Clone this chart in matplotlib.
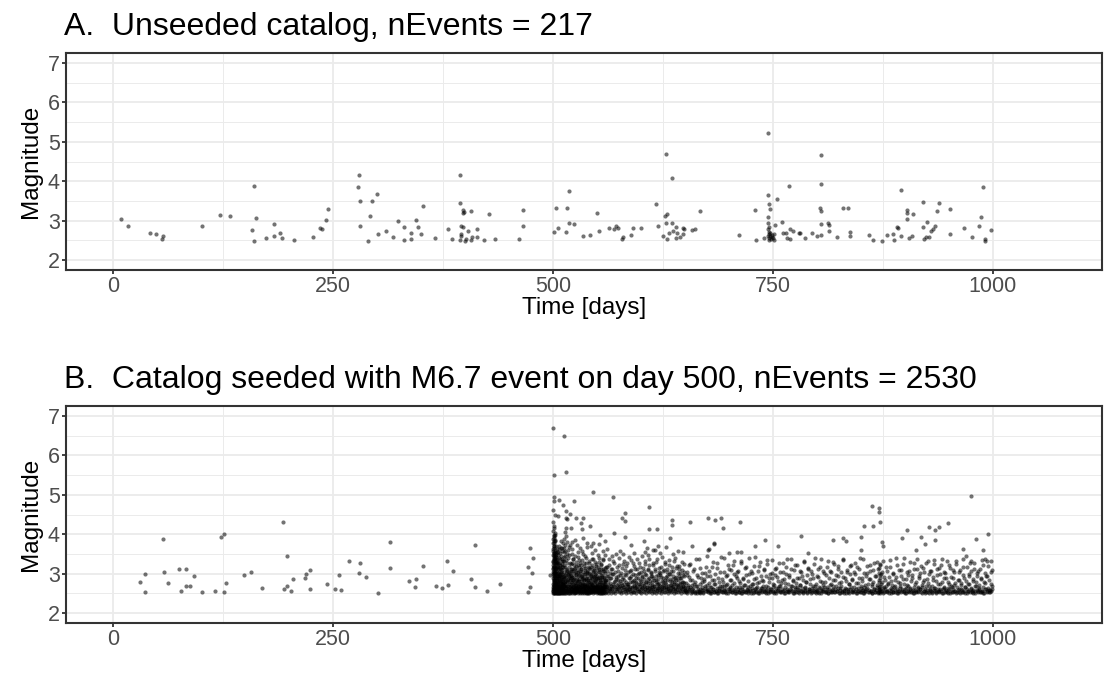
import numpy as np
import matplotlib.pyplot as plt

# Panel A: unseeded catalog (day, magnitude)
cat_a = [
    (8.7, 3.04), (17.3, 2.87), (41.9, 2.68), (49.2, 2.65), (56.4, 2.61), (55.8, 2.53), (101, 2.87), (122, 3.14),
    (133, 3.12), (160, 3.88), (162, 3.07), (158, 2.76), (160, 2.49), (174, 2.57), (182.5, 2.91), (182.5, 2.61),
    (190, 2.68), (192, 2.55), (206, 2.50), (227, 2.58), (235.5, 2.82), (238, 2.80), (242, 3.01), (244.5, 3.30),
    (279.5, 4.17), (278, 3.86), (281, 3.49), (294.7, 3.49), (300, 3.67), (292, 3.13), (280.5, 2.86), (289.5, 2.49),
    (301.6, 2.66), (310.6, 2.74), (318, 2.58), (323.5, 3.00), (330.8, 2.83), (330.8, 2.52), (339, 2.70), (339, 2.53),
    (344, 3.02), (346.8, 2.83), (350, 2.67), (352.4, 3.38), (366, 2.57), (381, 2.79), (385, 2.53), (394.5, 4.15),
    (394.5, 3.45), (397.3, 3.28), (398.3, 3.21), (397.6, 3.19), (407, 3.24), (396, 2.86), (398, 2.85), (403.5, 2.74),
    (396, 2.66), (395, 2.62), (394.5, 2.51), (401.5, 2.54), (400, 2.49), (408.4, 2.58), (406.7, 2.50), (414, 2.80),
    (413.6, 2.58), (421.7, 2.50), (427, 3.17), (433.8, 2.53), (461.7, 2.53), (465.5, 3.27), (465.5, 2.87), (501.4, 2.71),
    (503.8, 3.33), (505.2, 2.81), (515.3, 2.71), (516, 3.31), (518.5, 3.75), (518, 2.94), (523.3, 2.92), (534.5, 2.61),
    (542, 2.64), (550, 3.19), (551.9, 2.73), (563.7, 2.81), (569.3, 2.78), (571.4, 2.87), (573.5, 2.82), (578, 2.54),
    (579.7, 2.58), (588.7, 2.64), (590.4, 2.82), (600, 2.82), (617, 3.42), (619, 2.86), (628, 4.70), (634.8, 4.07),
    (627.5, 3.12), (629, 3.18), (628.5, 2.95), (635.5, 2.95), (639.6, 2.84), (625, 2.62), (629, 2.54), (631.6, 2.69),
    (636, 2.74), (640.7, 2.70), (640, 2.55), (643.8, 2.59), (647.6, 2.81), (648, 2.67), (649, 2.78), (658.4, 2.77),
    (661.6, 2.79), (667.1, 3.24), (711, 2.63), (729.5, 3.28), (730.8, 2.52), (739.6, 2.55), (744, 5.23), (744, 3.64),
    (745.5, 3.42), (746.5, 3.29), (744.4, 3.10), (744, 2.95), (744, 2.78), (745, 2.72), (746, 2.66), (747, 2.60),
    (745, 2.56), (748, 2.53), (746, 2.51), (744, 2.62), (749, 2.58), (747, 2.70), (750, 2.55), (751, 2.52),
    (745.5, 2.84), (748.5, 2.64), (754.5, 3.56), (752.4, 2.90), (760.4, 2.96), (751, 2.66), (768.5, 3.87), (761.5, 2.70),
    (765.3, 2.69), (769.5, 2.79), (772.3, 2.73), (765.7, 2.55), (768.8, 2.53), (779, 2.69), (780.6, 2.70), (786.2, 2.56),
    (793.8, 2.69), (800.5, 2.62), (804, 4.67), (804, 3.93), (803.3, 3.31), (804, 3.24), (804, 2.91), (804.3, 2.64),
    (812.3, 2.93), (813.4, 2.89), (813.4, 2.73), (822.4, 2.58), (829.7, 3.32), (835, 3.31), (837.4, 2.71), (837.8, 2.61),
    (858.6, 2.63), (863.2, 2.51), (873.6, 2.49), (879.9, 2.64), (886.8, 2.66), (887.2, 2.52), (891.4, 2.84), (891.8, 2.81),
    (895.2, 2.62), (895.5, 3.79), (902.5, 3.27), (901.8, 3.19), (902.5, 3.03), (908.8, 3.16), (905, 2.56), (907.7, 2.62),
    (920.6, 3.48), (920.3, 2.85), (924.8, 2.97), (921.3, 2.53), (923.4, 2.59), (927.2, 2.59), (930, 2.75), (931.8, 2.79),
    (933.9, 2.86), (936, 3.25), (939, 3.45), (950.6, 3.29), (951, 2.67), (967.6, 2.82), (975.6, 2.59), (984, 2.86),
    (986.4, 3.10), (989.2, 3.86), (991, 2.53), (991.3, 2.49), (998, 2.77),
]

# Panel B: seeded catalog, background events before day 500
cat_b_before = [
    (30.9, 2.78), (35.8, 2.99), (35.8, 2.54), (56.6, 3.89), (57.6, 3.03), (62.2, 2.76), (75.3, 3.11), (83, 3.12),
    (91.7, 2.95), (83.3, 2.70), (87.8, 2.70), (77.4, 2.56), (100.7, 2.54), (116, 2.55), (123, 3.93), (126.4, 4.01),
    (128.5, 2.76), (126.4, 2.54), (148.6, 2.97), (156.6, 3.04), (169, 2.63), (193, 4.30), (197.6, 3.45), (194, 2.61),
    (197.2, 2.68), (202, 2.56), (205, 2.87), (218, 2.88), (219.4, 2.98), (223.6, 3.09), (224.3, 2.61), (243.7, 2.75),
    (252, 2.62), (257.3, 2.96), (258.7, 2.59), (268.4, 3.33), (281.2, 3.28), (279.9, 3.01), (287, 2.91), (300.7, 2.51),
    (315, 3.80), (315.3, 3.15), (336, 2.82), (344.4, 2.86), (343.4, 2.66), (352, 3.20), (366.7, 2.69), (374, 2.63),
    (379, 3.31), (380.5, 2.71), (386, 3.06), (407, 2.87), (411.8, 3.72), (411.8, 2.66), (425, 2.57), (439.6, 2.74),
    (471.4, 2.53), (474.2, 2.66), (474.2, 3.64), (477, 3.41), (471.4, 3.16), (475.6, 3.02), (496.5, 2.97),
]

# larger events after the seed
cat_b_upper = [
    (500, 6.69), (512.2, 6.48), (501.7, 5.50), (514.3, 5.58), (545.7, 5.08), (568, 4.94), (500.7, 4.95), (500.7, 4.84),
    (507.3, 4.87), (510.8, 4.73), (524.4, 4.84), (514.3, 4.60), (519.6, 4.52), (526.2, 4.40), (534.3, 4.40), (531.5, 4.28),
    (533, 4.13), (542.2, 4.20), (514.3, 4.41), (516, 4.39), (505.6, 4.46), (500, 4.62), (502, 4.49), (521, 4.16),
    (553, 3.97), (569, 4.02), (581.4, 4.55), (578.2, 4.40), (582, 4.34), (582, 3.94), (609.3, 4.70), (609.3, 4.13),
    (618.7, 4.14), (603.7, 3.84), (619, 3.71), (606.5, 3.66), (613.4, 3.60), (635, 4.36), (635, 4.24), (633, 3.91),
    (655.7, 4.31), (676.3, 4.42), (684.4, 4.36), (691.3, 4.42), (693, 4.17), (648, 3.54), (658, 3.71), (682.8, 3.76),
    (677, 3.62), (712.8, 4.30), (741.3, 3.86), (755.6, 3.69), (782.3, 3.96), (789.6, 3.52), (817.8, 3.85), (829.6, 3.91),
    (833.1, 3.83), (862, 4.71), (871, 4.66), (871, 4.57), (871.7, 4.31), (853.6, 4.21), (863.7, 4.21), (849.8, 3.94),
    (850, 3.60), (873.4, 3.81), (874.5, 3.71), (902, 4.10), (896.8, 3.90), (927.7, 4.19), (933.6, 4.10), (939.1, 4.19),
    (948.5, 4.28), (918.3, 3.92), (923.2, 3.75), (934, 3.85), (912, 3.59), (975.3, 4.98), (981, 3.88), (994.4, 4.00),
    (988.9, 3.61), (991.3, 3.36), (997.2, 3.32), (966, 3.63), (975.3, 3.31), (729.5, 3.69), (699.6, 3.53), (709.3, 3.56),
    (713.5, 3.56), (682.6, 3.77), (676.3, 3.61),
]

# first aftershock streak, days 500-505
cat_b_core = [
    (500.1, 2.52), (500.3, 2.61), (500.2, 2.74), (500.5, 2.55), (500.4, 2.88), (500.6, 3.02), (500.2, 3.15), (500.8, 2.67),
    (500.7, 2.93), (500.3, 3.31), (500.9, 2.58), (501.0, 2.81), (500.6, 3.44), (501.2, 2.53), (501.1, 3.08), (500.4, 3.62),
    (501.3, 2.72), (501.5, 2.96), (500.9, 3.27), (501.4, 2.60), (501.6, 3.19), (500.2, 3.78), (501.8, 2.54), (501.7, 2.85),
    (500.7, 3.91), (502.0, 2.66), (501.9, 3.05), (501.2, 3.53), (502.1, 2.78), (502.3, 2.57), (500.5, 4.08), (502.2, 3.38),
    (502.5, 2.69), (502.4, 2.91), (501.0, 4.22), (502.7, 2.51), (502.6, 3.12), (502.9, 2.63), (502.8, 2.84), (501.6, 3.71),
    (503.0, 2.99), (503.2, 2.56), (503.1, 3.24), (503.4, 2.75), (503.3, 2.62), (502.0, 3.86), (503.6, 2.89), (503.5, 3.47),
    (503.8, 2.53), (503.7, 2.70), (504.0, 3.01), (504.2, 2.59), (504.1, 2.81), (504.4, 3.29), (504.3, 2.64), (504.6, 2.52),
    (504.5, 2.95), (504.8, 2.73), (504.7, 3.16), (505.0, 2.58), (500.3, 2.98), (500.8, 3.36), (501.4, 3.84), (500.1, 3.22),
    (500.6, 2.70), (501.1, 2.64), (501.8, 3.32), (502.4, 3.61), (503.0, 3.42), (502.2, 2.59), (500.4, 2.57), (500.9, 2.77),
    (501.5, 2.52), (502.0, 2.95), (502.6, 2.74), (503.3, 2.52), (503.9, 3.08), (504.5, 2.67), (505.1, 2.86), (505.3, 3.13),
    (500.2, 2.66), (500.7, 2.51), (501.3, 2.90), (501.9, 2.61), (502.5, 3.02), (503.1, 2.55), (503.7, 2.97), (504.2, 3.55),
    (504.9, 2.55), (505.4, 2.62), (500.5, 3.12), (501.0, 3.48), (501.6, 2.79), (502.3, 3.14), (502.9, 3.27), (503.5, 2.58),
    (504.1, 2.52), (504.7, 2.61), (505.2, 2.79), (505.5, 2.51), (500.2, 3.48), (500.6, 3.71), (500.9, 3.95), (501.3, 3.66),
    (500.4, 3.29), (501.7, 3.52), (500.8, 4.15), (502.1, 3.44), (501.5, 3.97), (500.3, 4.31), (502.6, 3.55), (501.0, 3.79),
    (500.5, 3.58), (503.2, 3.69), (501.9, 4.04), (500.1, 3.88), (502.8, 3.82), (501.2, 3.17), (503.6, 3.35), (500.7, 3.40),
    (504.0, 3.62), (502.4, 3.98), (500.9, 2.62), (501.4, 2.71), (502.7, 3.09), (503.9, 2.77), (504.4, 2.84), (505.0, 3.27),
    (500.6, 2.85), (502.1, 2.53), (500.3, 3.05), (500.8, 3.18), (501.2, 3.34), (501.7, 3.01), (502.2, 3.26), (502.7, 3.40),
    (503.3, 3.15), (503.8, 3.52), (504.3, 3.20), (504.8, 3.38),
]

# second streak after the M6.5 on day ~512
cat_b_streak2 = [
    (511.8, 2.53), (512.1, 2.68), (512.4, 2.87), (512.0, 3.05), (512.6, 2.59), (512.9, 3.21), (513.1, 2.74), (512.3, 3.42),
    (513.4, 2.55), (513.7, 2.96), (513.2, 3.58), (514.0, 2.63), (514.3, 3.12), (513.8, 2.81), (514.6, 2.52), (514.1, 3.73),
    (514.9, 2.70), (515.2, 2.92), (514.7, 3.34), (515.5, 2.57), (515.8, 3.07), (515.3, 2.64), (516.1, 2.78), (516.4, 2.53),
    (515.9, 3.49), (516.7, 2.86), (517.0, 2.61), (516.3, 3.26), (517.3, 2.99), (517.6, 2.55), (512.7, 3.89), (513.5, 4.05),
    (514.4, 4.17), (513.0, 3.66), (515.0, 3.95), (516.0, 3.81), (512.2, 2.76), (513.9, 2.51), (515.6, 2.69), (517.9, 2.73),
    (518.2, 2.58), (518.5, 3.03), (518.8, 2.66), (519.1, 2.52), (519.4, 2.84), (511.6, 2.95), (512.5, 2.52), (513.3, 2.88),
    (514.5, 2.66), (515.7, 2.81), (516.6, 2.62), (517.4, 2.52), (517.1, 3.40), (518.0, 3.18), (512.8, 3.31), (514.8, 3.02),
    (513.6, 3.17), (516.9, 2.96), (511.9, 2.62), (515.1, 2.55), (512.5, 3.54), (513.8, 3.45), (512.0, 2.70), (512.9, 2.93),
    (513.6, 2.57), (514.2, 2.79), (515.4, 3.10), (516.5, 2.68), (516.8, 3.59), (517.7, 3.67), (518.6, 3.48), (519.2, 3.72),
]

# dense aftershocks, days 505-560
cat_b_early = [
    (505.6, 2.54), (505.9, 2.77), (506.2, 2.61), (506.4, 3.05), (506.7, 2.52), (506.9, 2.88), (507.2, 2.66), (507.5, 3.21),
    (507.7, 2.57), (508.0, 2.95), (508.3, 2.70), (508.5, 2.53), (508.8, 3.12), (509.1, 2.82), (509.3, 2.59), (509.6, 2.51),
    (509.9, 3.37), (510.2, 2.73), (510.4, 2.64), (510.7, 2.98), (511.0, 2.55), (511.3, 3.16), (506.0, 3.48), (507.0, 2.52),
    (508.1, 2.60), (509.0, 3.64), (510.1, 2.52), (506.5, 2.70), (507.9, 2.79), (509.4, 3.01), (520.0, 2.53), (520.3, 2.79),
    (520.7, 3.06), (521.0, 2.62), (521.4, 2.51), (521.7, 2.91), (522.1, 3.28), (522.4, 2.67), (522.8, 2.55), (523.1, 2.84),
    (523.5, 3.12), (523.8, 2.58), (524.2, 2.72), (524.5, 2.52), (524.9, 3.45), (525.2, 2.64), (525.6, 2.97), (525.9, 2.53),
    (526.3, 2.76), (526.6, 3.19), (527.0, 2.56), (527.3, 2.86), (527.7, 2.61), (528.0, 3.03), (528.4, 2.52), (528.7, 2.69),
    (529.1, 3.34), (529.4, 2.58), (529.8, 2.81), (530.1, 2.54), (530.5, 3.08), (530.8, 2.66), (531.2, 2.52), (531.5, 2.93),
    (531.9, 2.60), (532.2, 3.22), (532.6, 2.71), (532.9, 2.55), (533.3, 2.87), (533.6, 3.51), (534.0, 2.57), (534.3, 2.74),
    (534.7, 2.52), (535.0, 3.00), (535.4, 2.63), (535.7, 2.83), (536.1, 2.53), (536.4, 3.14), (536.8, 2.68), (537.1, 2.56),
    (537.5, 2.90), (537.8, 3.41), (538.2, 2.59), (538.5, 2.77), (538.9, 2.52), (539.2, 3.05), (539.6, 2.65), (539.9, 2.54),
    (540.3, 2.85), (540.6, 3.26), (541.0, 2.61), (541.3, 2.52), (541.7, 2.73), (542.0, 2.98), (542.4, 2.55), (542.7, 3.17),
    (543.1, 2.67), (543.4, 2.53), (543.8, 2.89), (544.1, 2.60), (544.5, 3.38), (544.8, 2.71), (545.2, 2.52), (545.5, 2.94),
    (545.9, 2.58), (546.2, 3.09), (546.6, 2.64), (546.9, 2.80), (547.3, 2.53), (547.6, 3.29), (548.0, 2.62), (548.3, 2.56),
    (548.7, 2.86), (549.0, 2.69), (549.4, 3.02), (549.7, 2.52), (550.1, 2.75), (550.4, 2.59), (550.8, 3.47), (551.1, 2.66),
    (551.5, 2.53), (551.8, 2.91), (552.2, 2.57), (552.5, 3.13), (552.9, 2.70), (553.2, 2.52), (553.6, 2.84), (553.9, 2.61),
    (554.3, 3.24), (554.6, 2.55), (555.0, 2.78), (555.3, 2.64), (555.7, 2.97), (556.0, 2.52), (556.4, 2.72), (556.7, 3.36),
    (557.1, 2.58), (557.4, 2.88), (557.8, 2.54), (558.1, 3.06), (558.5, 2.67), (558.8, 2.52), (559.2, 2.81), (559.5, 2.60),
    (559.9, 3.18), (521.2, 3.62), (527.5, 3.72), (533.0, 3.58), (539.0, 3.67), (545.0, 3.79), (522.6, 2.59), (524.0, 2.55),
    (526.0, 2.63), (528.9, 2.57), (531.0, 2.75), (534.5, 2.61), (536.6, 2.58), (538.7, 2.69), (541.5, 2.57), (543.6, 2.76),
    (546.0, 2.55), (548.5, 2.65), (551.3, 2.59), (554.0, 2.52), (556.9, 2.61), (520.5, 2.88), (523.3, 3.02), (525.4, 2.54),
    (529.6, 2.96), (532.4, 2.52), (535.2, 2.68), (537.3, 2.53), (540.0, 2.62), (542.9, 2.54), (545.7, 2.66), (547.9, 2.93),
    (550.6, 2.54), (553.4, 2.67), (555.5, 2.53), (558.3, 2.74), (506.8, 3.27), (508.6, 2.87), (510.5, 2.58), (519.7, 2.67),
    (519.9, 3.11), (505.8, 2.93), (507.4, 2.54), (509.7, 2.69), (510.9, 2.80), (518.4, 2.93), (505.7, 3.18), (506.3, 2.58),
    (507.1, 2.93), (507.8, 2.51), (508.4, 3.36), (509.2, 2.62), (509.8, 2.91), (510.6, 3.24), (511.2, 2.67), (511.5, 2.52),
    (516.2, 2.59), (517.2, 2.83), (518.1, 2.51), (518.9, 3.28), (519.3, 2.56), (519.6, 2.90), (506.1, 2.66), (507.6, 2.99),
    (508.9, 2.55), (510.3, 3.09), (505.4, 2.71), (505.9, 3.02), (506.6, 2.59), (507.3, 2.83), (507.9, 3.14), (508.7, 2.62),
    (509.5, 2.77), (510.0, 2.54), (510.8, 3.31), (511.4, 2.73), (520.2, 2.64), (520.9, 2.97), (521.5, 2.56), (522.3, 2.75),
    (522.9, 3.38), (523.6, 2.61), (524.4, 2.87), (525.0, 2.53), (525.7, 3.04), (526.4, 2.69), (527.2, 2.58), (527.9, 2.81),
    (528.6, 3.21), (529.3, 2.55), (530.0, 2.72), (530.7, 2.63), (531.4, 3.11), (532.1, 2.57), (532.8, 2.92), (533.5, 2.66),
    (534.2, 2.53), (534.9, 3.27), (535.6, 2.74), (536.3, 2.59), (537.0, 2.85), (537.7, 2.52), (538.4, 3.01), (539.1, 2.68),
    (539.8, 2.56), (540.5, 2.79), (541.2, 3.15), (541.9, 2.62), (542.6, 2.54), (543.3, 2.94), (544.0, 2.71), (544.7, 2.57),
    (545.4, 3.07), (546.1, 2.65), (546.8, 2.53), (547.5, 2.83), (548.2, 2.59), (548.9, 3.19), (549.6, 2.67), (550.3, 2.55),
    (551.0, 2.88), (551.7, 2.62), (552.4, 2.52), (553.1, 3.03), (553.8, 2.73), (554.5, 2.58), (555.2, 2.91), (555.9, 2.56),
    (556.6, 3.12), (557.3, 2.64), (558.0, 2.53), (558.7, 2.80), (559.4, 2.68), (520.6, 2.55), (523.9, 2.52), (527.6, 2.64),
    (531.8, 2.53), (535.9, 2.62), (539.4, 2.52), (543.0, 2.60), (546.4, 2.55), (550.0, 2.63), (553.5, 2.56), (557.0, 2.52),
    (506.9, 2.62), (508.2, 2.53), (509.9, 2.75), (511.1, 2.58), (505.3, 2.55), (510.4, 2.85), (522.0, 3.49), (528.2, 3.56),
    (536.9, 3.44), (544.2, 3.53), (551.9, 3.41), (558.6, 3.47),
]

# more of the same window, read from the upper part of the cloud
cat_b_early2 = [
    (505.5, 2.88), (505.8, 3.29), (506.1, 2.73), (506.5, 3.11), (506.8, 2.64), (507.0, 3.40), (507.3, 2.97), (507.6, 2.69),
    (508.0, 3.23), (508.3, 2.81), (508.6, 3.05), (508.9, 2.67), (509.2, 3.46), (509.5, 2.92), (509.8, 2.75), (510.1, 3.18),
    (510.4, 2.62), (510.7, 3.33), (511.0, 2.86), (511.3, 2.71), (519.5, 3.02), (519.8, 2.74), (520.1, 3.25), (520.4, 2.68),
    (520.8, 2.93), (521.1, 3.12), (521.5, 2.79), (521.8, 2.63), (522.2, 3.37), (522.5, 2.85), (522.9, 2.70), (523.2, 3.06),
    (523.6, 2.66), (523.9, 3.21), (524.3, 2.91), (524.6, 2.76), (525.0, 3.15), (525.3, 2.61), (525.7, 2.83), (526.0, 3.30),
    (526.4, 2.72), (526.7, 2.98), (527.1, 2.65), (527.4, 3.09), (527.8, 2.80), (528.1, 3.42), (528.5, 2.69), (528.8, 2.94),
    (529.2, 2.62), (529.5, 3.17), (529.9, 2.87), (530.2, 2.73), (530.6, 3.01), (530.9, 3.26), (531.3, 2.67), (531.6, 2.82),
    (532.0, 3.13), (532.3, 2.63), (532.7, 2.95), (533.0, 2.77), (533.4, 3.35), (533.7, 2.70), (534.1, 2.89), (534.4, 3.04),
    (534.8, 2.64), (535.1, 3.20), (535.5, 2.84), (535.8, 2.68), (536.2, 2.99), (536.5, 3.10), (536.9, 2.74), (537.2, 2.61),
    (537.6, 3.28), (537.9, 2.86), (538.3, 2.71), (538.6, 3.07), (539.0, 2.93), (539.3, 2.66), (539.7, 3.16), (540.0, 2.79),
    (540.4, 2.63), (540.7, 3.02), (541.1, 2.90), (541.4, 3.31), (541.8, 2.69), (542.1, 2.83), (542.5, 3.12), (542.8, 2.65),
    (543.2, 2.96), (543.5, 2.75), (543.9, 3.22), (544.2, 2.87), (544.6, 2.62), (544.9, 3.05), (545.3, 2.78), (545.6, 3.36),
    (546.0, 2.70), (546.3, 2.92), (546.7, 2.66), (547.0, 3.14), (547.4, 2.82), (547.7, 2.72), (548.1, 3.00), (548.4, 3.24),
    (548.8, 2.64), (549.1, 2.88), (549.5, 2.77), (549.8, 3.09), (550.2, 2.68), (550.5, 2.95), (550.9, 3.18), (551.2, 2.61),
    (551.6, 2.84), (551.9, 3.03), (552.3, 2.74), (552.6, 3.29), (553.0, 2.67), (553.3, 2.90), (553.7, 2.80), (554.0, 3.11),
    (554.4, 2.63), (554.7, 2.97), (555.1, 3.21), (555.4, 2.71), (555.8, 2.86), (556.1, 2.65), (556.5, 3.06), (556.8, 2.79),
    (557.2, 3.34), (557.5, 2.69), (557.9, 2.92), (558.2, 2.62), (558.6, 3.15), (558.9, 2.83), (559.3, 2.73), (559.6, 3.01),
    (559.9, 2.66), (505.6, 3.55), (506.4, 3.62), (507.2, 3.71), (508.1, 3.52), (509.0, 3.83), (509.7, 3.58), (510.5, 3.66),
    (511.2, 3.77), (521.9, 3.80), (525.5, 3.86), (530.4, 3.64), (534.6, 3.90), (538.8, 3.77), (543.7, 3.69), (547.2, 3.61),
    (552.0, 3.74), (556.3, 3.58), (559.1, 3.82),
]

# aftershocks, days 560-650
cat_b_mid = [
    (560.2, 2.61), (560.5, 2.53), (560.9, 2.94), (561.3, 2.70), (561.4, 3.18), (561.9, 2.56), (562.6, 2.83), (562.8, 2.51),
    (563.1, 3.37), (563.7, 2.64), (564.0, 2.58), (564.5, 2.77), (564.6, 3.02), (565.2, 2.55), (565.9, 2.69), (566.0, 2.89),
    (566.4, 2.52), (567.1, 3.11), (567.3, 2.62), (567.9, 2.74), (568.4, 2.54), (568.5, 2.98), (569.0, 3.26), (569.6, 2.57),
    (570.2, 2.81), (570.3, 2.66), (570.9, 2.52), (571.5, 2.92), (571.6, 3.51), (572.3, 2.60), (572.8, 2.71), (573.0, 2.55),
    (573.5, 3.07), (574.1, 2.85), (574.2, 2.63), (574.9, 2.53), (575.3, 3.22), (575.8, 2.68), (576.2, 2.57), (576.7, 2.96),
    (577.2, 2.76), (577.5, 2.51), (578.1, 3.14), (578.6, 2.59), (578.8, 2.87), (579.4, 2.65), (580.0, 2.54), (580.4, 3.33),
    (580.7, 2.73), (581.3, 2.56), (581.9, 2.99), (582.0, 2.62), (582.6, 2.52), (583.2, 2.80), (583.3, 3.19), (583.9, 2.58),
    (584.4, 2.69), (584.9, 3.04), (585.1, 2.53), (585.7, 2.75), (586.2, 2.61), (586.5, 3.42), (587.0, 2.55), (587.6, 2.90),
    (587.8, 2.67), (588.3, 2.52), (588.9, 3.09), (589.4, 2.78), (589.5, 2.57), (590.1, 2.63), (590.7, 3.27), (590.9, 2.54),
    (591.5, 2.84), (592.0, 2.70), (592.2, 2.53), (592.7, 2.96), (593.4, 3.12), (593.5, 2.59), (594.1, 2.66), (594.7, 2.52),
    (594.8, 2.79), (595.3, 3.36), (595.9, 2.62), (596.1, 2.55), (596.6, 2.88), (597.2, 2.74), (597.3, 3.01), (597.8, 2.56),
    (598.4, 2.53), (598.7, 2.68), (599.2, 3.17), (599.8, 2.60), (600.0, 2.82), (600.5, 2.51), (601.1, 2.93), (601.2, 3.46),
    (601.7, 2.65), (602.3, 2.57), (602.5, 2.76), (603.0, 3.06), (603.6, 2.54), (603.9, 2.71), (604.3, 2.62), (604.9, 2.99),
    (605.0, 3.24), (605.6, 2.52), (606.2, 2.80), (606.4, 2.58), (606.9, 2.67), (607.5, 3.13), (607.7, 2.55), (608.2, 2.86),
    (608.8, 2.63), (609.0, 2.53), (609.5, 3.38), (610.1, 2.72), (610.3, 2.57), (610.8, 2.95), (611.4, 2.60), (611.6, 3.03),
    (612.1, 2.52), (612.7, 2.78), (612.9, 2.66), (613.4, 3.21), (614.0, 2.56), (614.2, 2.89), (614.7, 2.54), (615.3, 2.69),
    (615.5, 3.08), (616.0, 2.61), (616.6, 2.52), (616.8, 2.83), (617.3, 3.30), (617.9, 2.58), (618.1, 2.74), (618.6, 2.55),
    (619.2, 2.97), (619.4, 2.64), (619.9, 3.14), (620.5, 2.53), (620.7, 2.77), (621.2, 2.59), (621.8, 3.02), (622.0, 2.68),
    (622.5, 2.52), (623.1, 2.91), (623.3, 3.43), (623.8, 2.62), (624.4, 2.56), (624.6, 2.80), (625.1, 2.71), (625.7, 3.10),
    (625.9, 2.54), (626.4, 2.65), (627.0, 2.85), (627.2, 2.53), (627.7, 3.25), (628.3, 2.60), (628.5, 2.75), (629.0, 2.57),
    (629.6, 2.94), (629.8, 3.05), (630.3, 2.52), (630.9, 2.69), (631.1, 2.63), (631.6, 3.35), (632.2, 2.55), (632.4, 2.82),
    (632.9, 2.59), (633.5, 2.98), (633.7, 2.72), (634.2, 2.53), (634.8, 3.16), (635.0, 2.66), (635.5, 2.56), (636.1, 2.87),
    (636.3, 2.61), (636.8, 3.07), (637.4, 2.52), (637.6, 2.78), (638.1, 2.64), (638.7, 3.40), (638.9, 2.57), (639.4, 2.73),
    (640.0, 2.54), (640.2, 2.92), (640.7, 3.20), (641.3, 2.60), (641.5, 2.68), (642.0, 2.53), (642.6, 2.84), (642.8, 3.11),
    (643.3, 2.58), (643.9, 2.76), (644.1, 2.55), (644.6, 3.01), (645.2, 2.65), (645.4, 2.52), (645.9, 2.89), (646.5, 3.29),
    (646.7, 2.62), (647.2, 2.56), (647.8, 2.79), (648.0, 2.70), (648.5, 3.04), (649.1, 2.53), (649.3, 2.95), (649.8, 2.59),
    (561.7, 3.63), (575.6, 3.58), (588.1, 3.72), (604.1, 3.55), (616.3, 3.61), (628.8, 3.68), (641.9, 3.57), (566.7, 3.45),
    (579.1, 3.49), (592.5, 3.53), (608.4, 3.47), (621.6, 3.52), (636.6, 3.50),
]

cat_b_mid2 = [
    (560.7, 2.84), (561.1, 3.07), (561.6, 2.66), (562.4, 2.95), (563.0, 2.73), (563.4, 3.22), (564.3, 2.62), (565.0, 2.89),
    (565.4, 3.13), (566.2, 2.70), (566.9, 2.98), (567.6, 2.64), (568.2, 3.31), (568.9, 2.79), (569.4, 2.68), (570.4, 3.04),
    (571.1, 2.86), (571.8, 2.60), (572.6, 3.17), (573.3, 2.75), (574.0, 2.93), (574.6, 2.67), (575.5, 3.39), (576.0, 2.81),
    (576.9, 2.63), (577.8, 3.01), (578.4, 2.72), (579.2, 2.91), (579.8, 3.24), (580.5, 2.65), (581.1, 2.83), (581.7, 3.10),
    (582.4, 2.61), (583.1, 2.97), (583.7, 2.74), (584.3, 3.28), (585.0, 2.69), (585.9, 2.88), (586.4, 2.62), (587.2, 3.06),
    (587.9, 2.78), (588.7, 2.94), (589.1, 3.35), (589.8, 2.66), (590.6, 2.82), (591.3, 3.00), (591.9, 2.71), (592.6, 3.19),
    (593.2, 2.63), (594.0, 2.90), (594.5, 2.77), (595.2, 3.12), (596.0, 2.68), (596.7, 2.99), (597.5, 2.61), (598.1, 3.27),
    (598.8, 2.84), (599.4, 2.73), (600.3, 3.05), (600.9, 2.64), (601.5, 2.92), (602.2, 3.15), (602.9, 2.70), (603.5, 2.87),
    (604.2, 2.62), (604.8, 3.33), (605.5, 2.79), (606.1, 2.96), (606.8, 2.67), (607.4, 3.09), (608.1, 2.76), (608.7, 2.89),
    (609.4, 3.21), (610.0, 2.63), (610.6, 2.82), (611.3, 3.02), (612.0, 2.72), (612.6, 2.94), (613.3, 2.61), (613.9, 3.26),
    (614.5, 2.85), (615.2, 2.68), (615.9, 3.11), (616.5, 2.78), (617.1, 2.93), (617.8, 2.64), (618.4, 3.37), (619.1, 2.74),
    (619.7, 2.87), (620.4, 3.04), (621.0, 2.66), (621.6, 2.96), (622.3, 2.62), (622.9, 3.18), (623.6, 2.81), (624.2, 2.70),
    (624.9, 3.07), (625.5, 2.89), (626.1, 2.63), (626.8, 3.29), (627.4, 2.76), (628.1, 2.91), (628.7, 2.67), (629.3, 3.12),
    (630.0, 2.83), (630.7, 2.61), (631.3, 2.98), (631.9, 3.23), (632.6, 2.72), (633.2, 2.86), (633.9, 2.64), (634.5, 3.06),
    (635.2, 2.79), (635.8, 2.94), (636.4, 2.68), (637.1, 3.32), (637.7, 2.75), (638.4, 2.90), (639.0, 2.62), (639.7, 3.14),
    (640.3, 2.84), (640.9, 2.71), (641.6, 3.01), (642.2, 2.66), (642.9, 2.95), (643.5, 3.20), (644.2, 2.73), (644.8, 2.88),
    (645.5, 2.63), (646.1, 3.09), (646.8, 2.80), (647.4, 2.69), (648.1, 2.97), (648.7, 3.25), (649.4, 2.76), (649.9, 2.65),
]

# aftershocks, days 650-1000
cat_b_late = [
    (650.3, 2.58), (651.2, 2.77), (651.5, 2.53), (652.6, 3.05), (653.1, 2.66), (653.9, 2.55), (654.7, 2.91), (655.0, 2.62),
    (656.2, 3.24), (656.6, 2.52), (657.4, 2.71), (658.3, 2.84), (658.5, 2.57), (659.6, 2.63), (660.1, 3.12), (661.0, 2.54),
    (661.8, 2.79), (662.2, 2.68), (663.3, 2.52), (663.7, 2.96), (664.6, 2.60), (665.4, 3.37), (665.9, 2.56), (666.5, 2.74),
    (667.6, 2.53), (668.2, 2.88), (668.9, 2.65), (669.8, 3.01), (670.1, 2.58), (671.0, 2.52), (671.9, 2.82), (672.4, 2.69),
    (673.3, 3.18), (673.8, 2.55), (674.9, 2.61), (675.3, 2.93), (676.1, 2.53), (677.0, 2.76), (677.6, 3.08), (678.5, 2.57),
    (679.2, 2.66), (679.9, 2.52), (680.8, 2.85), (681.4, 3.29), (682.1, 2.60), (683.0, 2.54), (683.5, 2.73), (684.6, 2.98),
    (685.2, 2.56), (685.8, 2.64), (686.7, 3.15), (687.5, 2.52), (688.1, 2.80), (688.9, 2.59), (689.6, 2.70), (690.4, 3.43),
    (691.1, 2.55), (691.7, 2.87), (692.6, 2.62), (693.4, 2.53), (694.0, 3.03), (694.8, 2.68), (695.7, 2.57), (696.3, 2.94),
    (697.1, 2.52), (697.9, 2.75), (698.4, 3.21), (699.5, 2.61), (700.2, 2.55), (700.9, 2.83), (701.6, 2.64), (702.5, 3.10),
    (703.1, 2.53), (703.8, 2.72), (704.7, 2.58), (705.3, 2.99), (706.2, 3.33), (706.8, 2.56), (707.6, 2.67), (708.5, 2.52),
    (709.0, 2.89), (709.9, 2.62), (710.6, 3.06), (711.4, 2.54), (712.1, 2.77), (713.0, 2.59), (713.6, 3.26), (714.5, 2.65),
    (715.2, 2.52), (715.9, 2.86), (716.7, 2.57), (717.5, 2.71), (718.2, 3.14), (719.0, 2.53), (719.7, 2.96), (720.6, 2.61),
    (721.3, 2.55), (722.0, 2.81), (722.8, 3.40), (723.5, 2.58), (724.3, 2.68), (725.1, 2.52), (725.8, 3.02), (726.6, 2.63),
    (727.3, 2.75), (728.2, 2.54), (728.8, 3.19), (729.7, 2.60), (730.4, 2.90), (731.2, 2.56), (731.9, 2.66), (732.7, 3.07),
    (733.4, 2.52), (734.2, 2.79), (735.0, 2.58), (735.6, 3.30), (736.5, 2.64), (737.2, 2.53), (738.0, 2.84), (738.7, 2.70),
    (739.5, 3.12), (740.3, 2.55), (741.0, 2.61), (741.8, 2.93), (742.5, 2.52), (743.3, 3.24), (744.1, 2.67), (744.8, 2.57),
    (745.6, 2.78), (746.3, 3.00), (747.1, 2.54), (747.9, 2.62), (748.6, 2.88), (749.4, 3.35), (750.1, 2.56), (750.9, 2.72),
    (751.6, 2.52), (752.4, 2.97), (753.2, 2.63), (753.9, 3.15), (754.7, 2.55), (755.4, 2.81), (756.2, 2.59), (757.0, 2.68),
    (757.7, 3.05), (758.5, 2.53), (759.2, 2.76), (760.0, 2.61), (760.8, 3.28), (761.5, 2.57), (762.3, 2.86), (763.0, 2.52),
    (763.8, 2.65), (764.6, 2.99), (765.3, 3.18), (766.1, 2.56), (766.8, 2.73), (767.6, 2.54), (768.4, 2.92), (769.1, 2.62),
    (769.9, 3.38), (770.7, 2.58), (771.4, 2.69), (772.2, 2.52), (772.9, 2.83), (773.7, 3.09), (774.5, 2.60), (775.2, 2.55),
    (776.0, 2.77), (776.8, 2.66), (777.5, 3.22), (778.3, 2.53), (779.0, 2.90), (779.8, 2.59), (780.6, 2.71), (781.3, 3.03),
    (782.1, 2.56), (782.9, 2.63), (783.6, 2.85), (784.4, 2.52), (785.1, 3.31), (785.9, 2.67), (786.7, 2.57), (787.4, 2.79),
    (788.2, 2.54), (789.0, 2.96), (789.7, 3.13), (790.5, 2.61), (791.2, 2.55), (792.0, 2.74), (792.8, 2.52), (793.5, 3.06),
    (794.3, 2.64), (795.1, 2.88), (795.8, 2.58), (796.6, 3.25), (797.3, 2.53), (798.1, 2.70), (798.9, 2.60), (799.6, 2.94),
    (800.4, 2.56), (801.2, 3.11), (801.9, 2.66), (802.7, 2.52), (803.4, 2.82), (804.2, 2.59), (805.0, 3.36), (805.7, 2.55),
    (806.5, 2.72), (807.3, 2.62), (808.0, 3.01), (808.8, 2.53), (809.5, 2.78), (810.3, 2.57), (811.1, 3.17), (811.8, 2.65),
    (812.6, 2.52), (813.3, 2.89), (814.1, 2.60), (814.9, 3.07), (815.6, 2.54), (816.4, 2.75), (817.2, 2.58), (817.9, 3.29),
    (818.7, 2.68), (819.4, 2.53), (820.2, 2.84), (821.0, 2.61), (821.7, 2.97), (822.5, 2.55), (823.3, 3.20), (824.0, 2.63),
    (824.8, 2.52), (825.5, 2.77), (826.3, 2.58), (827.1, 3.04), (827.8, 2.69), (828.6, 2.54), (829.4, 2.91), (830.1, 3.34),
    (830.9, 2.57), (831.6, 2.64), (832.4, 2.52), (833.2, 2.81), (833.9, 3.10), (834.7, 2.60), (835.5, 2.55), (836.2, 2.73),
    (837.0, 2.98), (837.7, 2.62), (838.5, 3.23), (839.3, 2.53), (840.0, 2.86), (840.8, 2.59), (841.6, 2.67), (842.3, 3.05),
    (843.1, 2.56), (843.8, 2.76), (844.6, 2.52), (845.4, 3.16), (846.1, 2.63), (846.9, 2.57), (847.7, 2.89), (848.4, 2.54),
    (849.2, 3.39), (849.9, 2.70), (850.7, 2.58), (851.5, 2.82), (852.2, 2.52), (853.0, 3.02), (853.8, 2.65), (854.5, 2.55),
    (855.3, 2.94), (856.0, 2.61), (856.8, 3.19), (857.6, 2.53), (858.3, 2.74), (859.1, 2.59), (859.9, 2.87), (860.6, 3.08),
    (861.4, 2.56), (862.1, 2.68), (862.9, 2.52), (863.7, 2.80), (864.4, 3.27), (865.2, 2.62), (866.0, 2.54), (866.7, 2.95),
    (867.5, 2.58), (868.2, 2.71), (869.0, 3.12), (869.8, 2.53), (870.3, 2.61), (870.6, 2.79), (870.9, 3.02), (871.2, 2.56),
    (871.5, 2.88), (871.1, 3.21), (870.8, 2.67), (871.7, 2.52), (872.4, 2.74), (873.1, 2.98), (873.9, 2.57), (874.7, 2.64),
    (875.4, 3.33), (876.2, 2.53), (876.9, 2.83), (877.7, 2.60), (878.5, 2.69), (879.2, 3.06), (880.0, 2.55), (880.8, 2.77),
    (881.5, 2.52), (882.3, 2.91), (883.0, 3.18), (883.8, 2.63), (884.6, 2.56), (885.3, 2.72), (886.1, 2.54), (886.9, 3.00),
    (887.6, 2.66), (888.4, 2.58), (889.1, 2.85), (889.9, 3.41), (890.7, 2.52), (891.4, 2.61), (892.2, 2.79), (893.0, 2.57),
    (893.7, 3.09), (894.5, 2.68), (895.2, 2.53), (896.0, 2.93), (896.8, 2.60), (897.5, 3.24), (898.3, 2.55), (899.1, 2.75),
    (899.8, 2.52), (900.6, 2.87), (901.3, 2.64), (902.1, 3.04), (902.9, 2.57), (903.6, 2.70), (904.4, 2.53), (905.2, 3.30),
    (905.9, 2.62), (906.7, 2.81), (907.4, 2.56), (908.2, 2.96), (909.0, 2.52), (909.7, 3.13), (910.5, 2.67), (911.3, 2.59),
    (912.0, 2.78), (912.8, 2.54), (913.5, 3.37), (914.3, 2.63), (915.1, 2.55), (915.8, 2.89), (916.6, 2.60), (917.4, 3.02),
    (918.1, 2.53), (918.9, 2.72), (919.6, 2.65), (920.4, 3.15), (921.2, 2.57), (921.9, 2.84), (922.7, 2.52), (923.5, 2.68),
    (924.2, 3.26), (925.0, 2.58), (925.7, 2.76), (926.5, 2.54), (927.3, 2.99), (928.0, 2.61), (928.8, 3.08), (929.6, 2.56),
    (930.3, 2.70), (931.1, 2.52), (931.8, 2.92), (932.6, 3.35), (933.4, 2.59), (934.1, 2.64), (934.9, 2.53), (935.7, 2.82),
    (936.4, 3.11), (937.2, 2.57), (937.9, 2.73), (938.7, 2.55), (939.5, 3.00), (940.2, 2.62), (941.0, 3.21), (941.8, 2.52),
    (942.5, 2.79), (943.3, 2.60), (944.0, 2.67), (944.8, 3.05), (945.6, 2.54), (946.3, 2.88), (947.1, 2.58), (947.9, 3.31),
    (948.6, 2.63), (949.4, 2.52), (950.1, 2.75), (950.9, 2.56), (951.7, 3.14), (952.4, 2.69), (953.2, 2.53), (954.0, 2.90),
    (954.7, 2.61), (955.5, 3.03), (956.2, 2.55), (957.0, 2.77), (957.8, 2.52), (958.5, 3.25), (959.3, 2.66), (960.0, 2.58),
    (960.8, 2.84), (961.6, 2.54), (962.3, 3.09), (963.1, 2.62), (963.9, 2.71), (964.6, 2.53), (965.4, 2.97), (966.1, 3.38),
    (966.9, 2.57), (967.7, 2.65), (968.4, 2.52), (969.2, 2.81), (970.0, 3.17), (970.7, 2.60), (971.5, 2.55), (972.2, 2.74),
    (973.0, 2.94), (973.8, 2.53), (974.5, 3.06), (975.3, 2.63), (976.1, 2.57), (976.8, 2.86), (977.6, 2.52), (978.3, 3.28),
    (979.1, 2.68), (979.9, 2.56), (980.6, 2.79), (981.4, 2.59), (982.2, 3.01), (982.9, 2.54), (983.7, 2.72), (984.4, 2.61),
    (985.2, 3.12), (986.0, 2.53), (986.7, 2.88), (987.5, 2.57), (988.3, 2.66), (989.0, 3.22), (989.8, 2.52), (990.5, 2.76),
    (991.3, 2.60), (992.1, 2.95), (992.8, 2.55), (993.6, 3.33), (994.4, 2.64), (995.1, 2.53), (995.9, 2.83), (996.6, 2.58),
    (997.4, 3.04), (998.2, 2.56), (998.9, 2.70),
]

cat_b_late2 = [
    (650.4, 2.63), (650.9, 2.55), (652.3, 2.97), (652.5, 2.52), (653.8, 2.71), (654.0, 3.21), (654.2, 2.58), (655.9, 2.66),
    (656.1, 2.84), (657.7, 2.53), (658.0, 2.61), (658.9, 3.08), (660.4, 2.56), (660.6, 2.75), (661.2, 2.52), (662.8, 3.36),
    (663.1, 2.69), (663.5, 2.57), (665.0, 2.91), (665.6, 2.54), (666.9, 2.62), (667.2, 2.52), (667.3, 3.14), (669.0, 2.78),
    (669.5, 2.59), (670.7, 2.53), (671.2, 2.87), (672.8, 3.02), (673.0, 2.64), (674.5, 2.55), (675.1, 2.72), (675.4, 3.45),
    (676.7, 2.58), (677.9, 2.52), (678.2, 2.95), (678.3, 2.67), (680.1, 2.56), (680.6, 3.17), (681.9, 2.61), (682.4, 2.83),
    (682.5, 2.53), (684.0, 2.74), (685.7, 2.57), (685.9, 3.27), (686.2, 2.52), (687.8, 2.89), (688.4, 2.63), (689.1, 2.55),
    (690.0, 3.05), (691.5, 2.68), (691.6, 2.53), (692.9, 2.79), (693.8, 2.59), (694.1, 3.39), (695.3, 2.54), (696.6, 2.72),
    (696.9, 2.61), (698.2, 2.97), (698.8, 2.52), (699.9, 3.11), (700.7, 2.65), (701.1, 2.56), (702.8, 2.85), (703.3, 2.53),
    (704.0, 3.23), (705.6, 2.60), (705.8, 2.76), (706.5, 2.52), (708.1, 2.93), (708.7, 2.57), (709.4, 3.03), (710.9, 2.67),
    (711.2, 2.54), (711.6, 2.82), (713.4, 2.52), (714.0, 3.31), (714.7, 2.62), (716.0, 2.56), (716.3, 2.90), (717.8, 2.71),
    (718.5, 2.53), (719.2, 3.16), (720.3, 2.59), (721.7, 2.66), (721.9, 2.52), (722.5, 2.99), (724.0, 2.55), (724.8, 3.07),
    (725.6, 2.73), (727.1, 2.58), (727.4, 2.52), (728.5, 2.86), (729.2, 3.42), (730.8, 2.63), (731.0, 2.54), (732.3, 2.77),
    (733.9, 2.57), (734.1, 3.20), (734.6, 2.52), (736.2, 2.94), (737.0, 2.64), (737.5, 2.55), (738.9, 2.81), (739.7, 3.09),
    (740.6, 2.53), (742.1, 2.69), (742.3, 2.58), (743.5, 3.34), (744.6, 2.52), (745.2, 2.88), (746.7, 2.61), (747.0, 2.55),
    (748.3, 3.01), (749.8, 2.74), (750.2, 2.53), (750.5, 2.66), (752.0, 3.13), (752.7, 2.57), (753.6, 2.52), (755.1, 2.92),
    (755.8, 2.63), (756.4, 3.26), (757.9, 2.56), (758.3, 2.70), (759.6, 2.53), (760.3, 2.84), (761.1, 3.04), (762.7, 2.59),
    (763.4, 2.52), (764.0, 2.76), (765.5, 3.37), (765.9, 2.62), (767.2, 2.55), (768.0, 2.96), (768.6, 2.53), (770.1, 2.68),
    (770.4, 3.12), (771.8, 2.57), (772.6, 2.82), (773.3, 2.52), (774.9, 2.65), (775.0, 3.22), (776.4, 2.54), (777.7, 2.89),
    (778.1, 2.60), (779.3, 2.52), (780.2, 3.06), (780.9, 2.71), (782.5, 2.56), (783.1, 2.94), (783.8, 2.53), (785.4, 3.29),
    (786.0, 2.64), (786.3, 2.58), (788.0, 2.78), (788.9, 2.52), (789.3, 3.15), (790.8, 2.61), (791.6, 2.55), (792.4, 2.87),
    (793.9, 2.53), (794.2, 3.00), (795.7, 2.68), (796.1, 2.57), (797.6, 3.41), (798.3, 2.52), (798.5, 2.74), (800.0, 2.59),
    (801.3, 2.91), (801.6, 2.54), (802.9, 3.18), (803.7, 2.63), (804.8, 2.52), (805.4, 2.80), (806.9, 2.56), (807.2, 3.08),
    (808.5, 2.66), (809.9, 2.53), (810.1, 2.97), (811.4, 2.60), (812.2, 3.32), (813.0, 2.52), (814.6, 2.72), (814.8, 2.57),
    (816.1, 3.03), (817.5, 2.54), (818.0, 2.85), (818.3, 2.62), (819.8, 3.24), (820.7, 2.53), (821.4, 2.69), (822.9, 2.56),
    (823.6, 2.93), (824.4, 3.11), (825.8, 2.52), (826.0, 2.64), (827.5, 2.78), (828.1, 2.55), (829.0, 3.38), (830.6, 2.59),
    (830.7, 2.52), (832.1, 2.88), (833.0, 2.61), (833.6, 3.05), (835.2, 2.54), (835.9, 2.73), (836.5, 2.52), (838.0, 3.19),
    (838.4, 2.66), (839.9, 2.57), (840.3, 2.83), (841.2, 2.53), (842.8, 2.98), (843.3, 3.27), (844.5, 2.60), (845.1, 2.52),
    (846.6, 2.76), (847.4, 2.56), (847.7, 3.13), (849.5, 2.63), (849.6, 2.53), (850.9, 2.90), (852.0, 2.58), (852.4, 3.36),
    (853.7, 2.52), (854.9, 2.71), (855.1, 2.55), (856.5, 3.02), (857.3, 2.64), (858.8, 2.53), (859.0, 2.86), (859.7, 3.21),
    (861.2, 2.57), (862.3, 2.52), (862.6, 2.75), (864.1, 3.09), (864.8, 2.60), (865.9, 2.54), (866.4, 2.95), (867.8, 2.67),
    (868.7, 3.30), (869.3, 2.52), (870.1, 2.58), (870.4, 2.84), (870.6, 3.14), (870.9, 2.53), (871.2, 2.70), (871.3, 2.97),
    (871.6, 3.25), (871.8, 2.61), (872.5, 2.55), (873.6, 2.79), (874.0, 3.04), (875.2, 2.52), (876.0, 2.65), (876.7, 2.91),
    (878.1, 2.56), (878.9, 3.17), (879.4, 2.53), (880.9, 2.73), (881.3, 2.59), (882.7, 3.35), (883.6, 2.52), (884.0, 2.82),
    (885.5, 2.62), (886.3, 2.54), (886.8, 3.01), (888.2, 2.68), (889.0, 2.53), (889.5, 2.92), (891.0, 3.22), (891.7, 2.57),
    (892.6, 2.52), (893.8, 2.77), (894.4, 2.63), (895.1, 3.10), (896.6, 2.55), (897.3, 2.86), (898.5, 2.53), (899.4, 3.40),
    (900.1, 2.61), (901.2, 2.52), (902.0, 2.71), (903.3, 2.97), (903.9, 2.57), (904.7, 3.06), (906.2, 2.64), (907.0, 2.53),
    (907.6, 2.89), (909.1, 2.59), (909.8, 3.28), (910.4, 2.52), (911.9, 2.75), (912.6, 2.56), (913.2, 3.12), (914.7, 2.66),
    (915.3, 2.53), (916.1, 2.94), (917.5, 2.60), (918.2, 3.19), (919.0, 2.52), (920.3, 2.80), (921.1, 2.57), (921.8, 3.03),
    (923.2, 2.62), (924.0, 2.54), (924.7, 2.87), (926.1, 3.33), (926.9, 2.52), (927.5, 2.70), (928.9, 2.58), (929.7, 3.08),
    (930.4, 2.53), (931.8, 2.83), (932.5, 2.64), (933.3, 3.24), (934.6, 2.55), (935.4, 2.52), (936.2, 2.96), (937.4, 2.61),
    (938.3, 3.15), (939.1, 2.53), (940.2, 2.74), (941.1, 2.57), (941.9, 3.37), (943.0, 2.52), (943.9, 2.88), (944.7, 2.63),
    (945.8, 3.01), (946.7, 2.55), (947.6, 2.53), (948.5, 2.78), (949.6, 3.21), (950.4, 2.60), (951.4, 2.52), (952.3, 2.92),
    (953.2, 2.66), (954.3, 3.10), (955.1, 2.54), (956.0, 2.71), (957.1, 2.57), (957.9, 3.31), (958.9, 2.53), (959.8, 2.85),
    (960.9, 2.62), (961.7, 3.05), (962.7, 2.52), (963.6, 2.76), (964.5, 2.58), (965.5, 3.18), (966.4, 2.54), (967.4, 2.90),
    (968.3, 2.65), (969.3, 3.44), (970.2, 2.52), (971.1, 2.73), (972.1, 2.56), (973.0, 2.99), (973.9, 3.26), (974.9, 2.61),
    (975.8, 2.53), (976.8, 2.82), (977.7, 2.59), (978.6, 3.13), (979.6, 2.52), (980.5, 2.68), (981.5, 2.95), (982.4, 2.55),
    (983.3, 3.07), (984.3, 2.64), (985.2, 2.53), (986.2, 2.87), (987.1, 3.34), (988.0, 2.57), (989.0, 2.52), (989.9, 2.79),
    (990.9, 3.02), (991.8, 2.62), (992.7, 2.54), (993.7, 2.93), (994.6, 3.20), (995.6, 2.58), (996.5, 2.53), (997.5, 2.75),
    (998.4, 3.09), (999.2, 2.60),
]

title_a = "A.  Unseeded catalog, nEvents = 217"
title_b = "B.  Catalog seeded with M6.7 event on day 500, nEvents = 2530"

cat_b = (cat_b_before + cat_b_upper + cat_b_core + cat_b_streak2 + cat_b_early + cat_b_early2
         + cat_b_mid + cat_b_mid2 + cat_b_late + cat_b_late2)

plt.rcParams['font.family'] = ['Liberation Sans', 'DejaVu Sans']

W, H = 1115, 686
fig = plt.figure(figsize=(W / 100, H / 100), dpi=100)

LEFT, RIGHT = 66, 1102
X0, PX_PER_DAY = 113, 0.88   # pixel of day 0, pixels per day


def panel(top_px, bottom_px, data, title, title_base_px):
    ax = fig.add_axes([LEFT / W, 1 - bottom_px / H, (RIGHT - LEFT) / W, (bottom_px - top_px) / H])
    arr = np.array(data)
    ax.scatter(arr[:, 0], arr[:, 1], s=9, c='black', alpha=0.55, linewidths=0, zorder=3)
    ax.set_xlim((LEFT - X0) / PX_PER_DAY, (RIGHT - X0) / PX_PER_DAY)
    ax.set_ylim(1.75, 7.25)
    ax.set_xticks([0, 250, 500, 750, 1000])
    ax.set_xticks([125, 375, 625, 875], minor=True)
    ax.set_yticks([2, 3, 4, 5, 6, 7])
    ax.set_yticks([2.5, 3.5, 4.5, 5.5, 6.5], minor=True)
    ax.grid(which='major', color='#EBEBEB', linewidth=1.3, zorder=0)
    ax.grid(which='minor', color='#EBEBEB', linewidth=0.7, zorder=0)
    ax.set_axisbelow(True)
    for sp in ax.spines.values():
        sp.set_color('#333333')
        sp.set_linewidth(1.5)
    ax.tick_params(which='major', length=3.2, width=1.3, color='#333333',
                   labelsize=15.5, labelcolor='#4D4D4D', pad=1.2)
    ax.tick_params(which='minor', length=0)
    ax.set_xlabel('Time [days]', fontsize=17.5, labelpad=0)
    ax.set_ylabel('Magnitude', fontsize=17.5, labelpad=4)
    fig.text(64 / W, 1 - title_base_px / H, title, fontsize=23, va='baseline', ha='left')
    return ax


panel(53, 270, cat_a, title_a, 35)
panel(406, 623, cat_b, title_b, 388)

fig.savefig('out.png', dpi=100)
